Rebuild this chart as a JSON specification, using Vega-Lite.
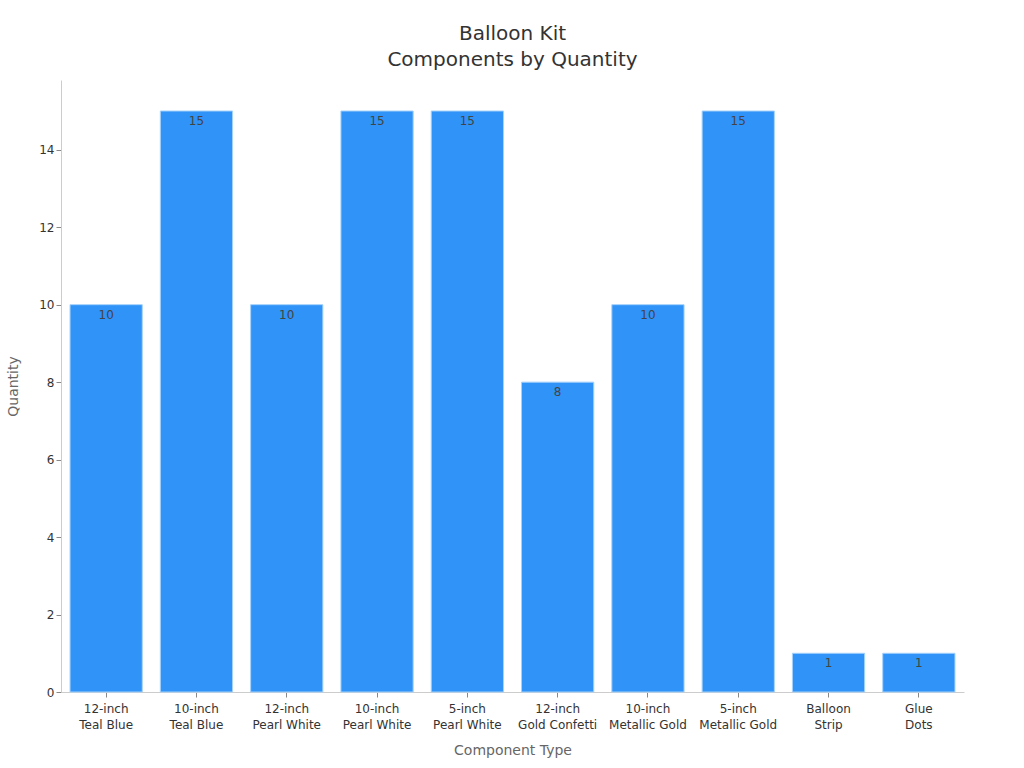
{
  "$schema": "https://vega.github.io/schema/vega-lite/v6.json",
  "width": 903,
  "height": 612,
  "padding": {"left": 61, "top": 80, "right": 60, "bottom": 76},
  "autosize": {"type": "none"},
  "background": "white",
  "title": {
    "text": ["Balloon Kit", "Components by Quantity"],
    "font": "DejaVu Sans",
    "fontSize": 20,
    "fontWeight": "normal",
    "color": "#333333",
    "offset": 10,
    "lineHeight": 26
  },
  "config": {
    "view": {"stroke": null},
    "font": "DejaVu Sans"
  },
  "data": {
    "values": [
      {"component": "12-inch Teal Blue", "quantity": 10},
      {"component": "10-inch Teal Blue", "quantity": 15},
      {"component": "12-inch Pearl White", "quantity": 10},
      {"component": "10-inch Pearl White", "quantity": 15},
      {"component": "5-inch Pearl White", "quantity": 15},
      {"component": "12-inch Gold Confetti", "quantity": 8},
      {"component": "10-inch Metallic Gold", "quantity": 10},
      {"component": "5-inch Metallic Gold", "quantity": 15},
      {"component": "Balloon Strip", "quantity": 1},
      {"component": "Glue Dots", "quantity": 1}
    ]
  },
  "encoding": {
    "x": {
      "field": "component",
      "type": "nominal",
      "sort": null,
      "scale": {"paddingInner": 0.2, "paddingOuter": 0.1},
      "axis": {
        "title": "Component Type",
        "titleFont": "DejaVu Sans",
        "titleFontSize": 14,
        "titleFontWeight": "normal",
        "titleColor": "#666666",
        "titlePadding": 13,
        "labelAngle": 0,
        "labelFontSize": 12,
        "labelColor": "#333333",
        "labelLineHeight": 16,
        "labelPadding": 6,
        "labelExpr": "[substring(datum.label, 0, indexof(datum.label, ' ')), substring(datum.label, indexof(datum.label, ' ') + 1)]",
        "domainColor": "#cccccc",
        "tickColor": "#888888",
        "tickSize": 5,
        "grid": false
      }
    },
    "y": {
      "field": "quantity",
      "type": "quantitative",
      "scale": {"domain": [0, 15.8], "nice": false},
      "axis": {
        "title": "Quantity",
        "titleFont": "DejaVu Sans",
        "titleFontSize": 14,
        "titleFontWeight": "normal",
        "titleColor": "#666666",
        "titlePadding": 18,
        "values": [0, 2, 4, 6, 8, 10, 12, 14],
        "labelFontSize": 12,
        "labelColor": "#333333",
        "domainColor": "#cccccc",
        "tickColor": "#888888",
        "tickSize": 5,
        "grid": false
      }
    }
  },
  "layer": [
    {
      "mark": {"type": "bar", "color": "#3093f8", "stroke": "#a6d2fb", "strokeWidth": 1}
    },
    {
      "mark": {"type": "text", "baseline": "middle", "dy": 10, "fontSize": 12, "color": "#444444"},
      "encoding": {"text": {"field": "quantity", "type": "quantitative"}}
    }
  ]
}
